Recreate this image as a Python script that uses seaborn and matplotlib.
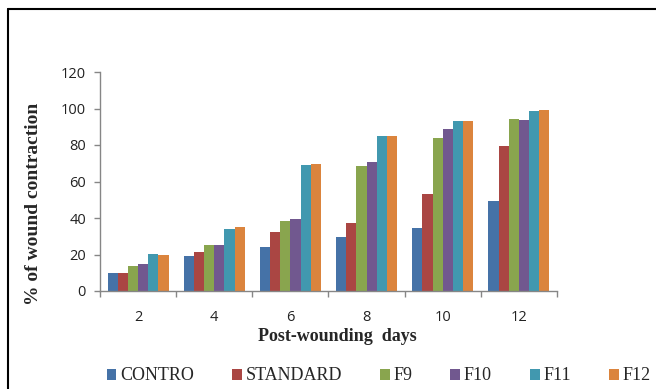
import matplotlib
matplotlib.use("Agg")
import matplotlib.pyplot as plt
from matplotlib.lines import Line2D
from matplotlib.ticker import FixedLocator
import seaborn as sns
import pandas as pd

days = ["2", "4", "6", "8", "10", "12"]
groups = ["CONTRO", "STANDARD", "F9", "F10", "F11", "F12"]
contro = [9.6, 19.4, 24.1, 29.6, 34.7, 49.5]
standard = [9.8, 21.2, 32.3, 37.3, 53.0, 79.7]
f9 = [13.8, 25.0, 38.2, 68.5, 84.1, 94.5]
f10 = [14.7, 25.1, 39.2, 70.5, 88.9, 93.6]
f11 = [20.4, 34.0, 69.3, 85.2, 92.9, 98.9]
f12 = [19.9, 34.8, 69.6, 84.8, 93.2, 99.3]
colors = ["#4572A7", "#AA4643", "#89A54E", "#71588F", "#4198AF", "#DB843D"]

series = [contro, standard, f9, f10, f11, f12]
rows = []
for g, vals in zip(groups, series):
    for d, v in zip(days, vals):
        rows.append({"day": d, "group": g, "value": v})
df = pd.DataFrame(rows)

sns.set_style("white")
plt.rcParams["font.family"] = ["Liberation Serif", "DejaVu Sans"]

fig = plt.figure(figsize=(6.56, 3.89), dpi=100)
ax = fig.add_axes([100 / 656, 1 - 291 / 389, 457 / 656, 219 / 389])

sns.barplot(data=df, x="day", y="value", hue="group", order=days,
            hue_order=groups, palette=colors, width=0.8, linewidth=0,
            saturation=1, ax=ax, legend=True)

ax.set_ylim(0, 120)
ax.set_xlim(-0.5, 5.5)
ax.set_yticks([0, 20, 40, 60, 80, 100, 120])

axis_col = "#868686"
for s in ["top", "right"]:
    ax.spines[s].set_visible(False)
for s in ["left", "bottom"]:
    ax.spines[s].set_visible(True)
    ax.spines[s].set_color(axis_col)
    ax.spines[s].set_linewidth(1.0)

ax.tick_params(axis="y", which="major", direction="out", length=4, width=1,
               color=axis_col, left=True, pad=6, labelsize=10.5)
ax.tick_params(axis="x", which="major", length=0, pad=14, labelsize=10.5)
ax.xaxis.set_minor_locator(FixedLocator([i - 0.5 for i in range(7)]))
ax.tick_params(axis="x", which="minor", direction="out", length=4, width=1,
               color=axis_col, bottom=True)
for lab in ax.get_xticklabels() + ax.get_yticklabels():
    lab.set_fontfamily(["Open Sans", "DejaVu Sans"])
    lab.set_color("#222222")

ax.set_xlabel("Post-wounding  days", fontsize=13, fontweight="bold",
              fontfamily=["Liberation Serif"])
ax.xaxis.set_label_coords(0.52, -0.168)
ax.set_ylabel("% of wound contraction", fontsize=14, fontweight="bold",
              fontfamily=["Liberation Serif"])
ax.yaxis.set_label_coords(-0.128, 0.397)

handles, labels = ax.get_legend_handles_labels()
ax.legend_.remove()
fig.legend(handles, labels, loc="center", bbox_to_anchor=(0.577, 1 - 376 / 389),
           ncol=6, frameon=False, handlelength=0.55,
           handleheight=0.55, handletextpad=0.2, columnspacing=2.1,
           prop={"family": "Liberation Serif", "size": 13})

# figure frame (left and top edges)
fig.add_artist(Line2D([8 / 656, 8 / 656], [0, 1 - 9 / 389], transform=fig.transFigure,
                      color="black", linewidth=1.5))
fig.add_artist(Line2D([8 / 656, 1], [1 - 9 / 389, 1 - 9 / 389], transform=fig.transFigure,
                      color="black", linewidth=1.5))

fig.savefig("out.png", dpi=100)
